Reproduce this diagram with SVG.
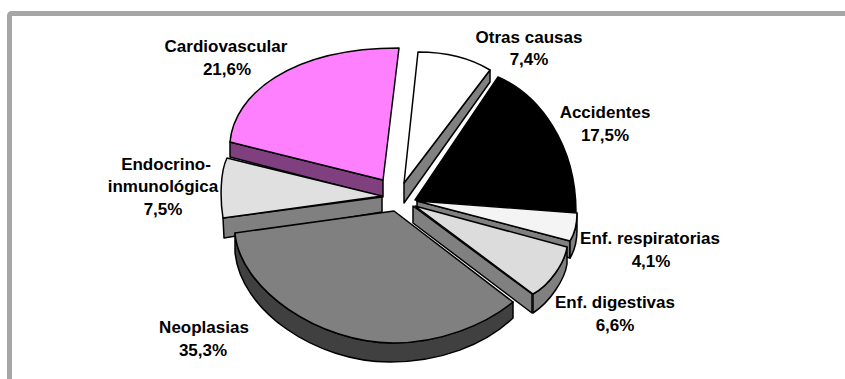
<svg xmlns="http://www.w3.org/2000/svg" width="845" height="379" viewBox="0 0 845 379">
<style>
.lbl{font-family:"Liberation Sans",Arial,sans-serif;font-weight:bold;font-size:17px;fill:#000;text-anchor:middle}
.s{stroke:#000;stroke-width:1.5;stroke-linejoin:round}
</style>
<rect x="0" y="0" width="845" height="379" fill="#fff"/>
<rect x="9.5" y="13.5" width="900" height="420" rx="2" fill="#fff" stroke="#a6a6a6" stroke-width="5"/>
<g id="otras">
<path class="s" d="M490,70 L490,82 L404,203 L404,183 Z" fill="#808080"/>
<path class="s" d="M418,52 C440,52 467,56 490,70 L404,183 Z" fill="#fff"/>
</g>
<g id="accidentes">
<path class="s" d="M415,200 L498,77 C540,95 576,145 576,212 Z" fill="#000"/>
</g>
<g id="cardiovascular">
<path class="s" d="M230,142 L383,180 L383,197 L230,157 Z" fill="#804080"/>
<path class="s" d="M230,142 C234,95 290,48 399,48 L383,180 Z" fill="#ff80ff"/>
</g>
<g id="respiratorias">
<path class="s" d="M417,201 L570,241 L570,258 L417,218 Z" fill="#808080"/>
<path class="s" d="M577,213 Q577,230 570,241 L570,258 Q577,247 577,230 Z" fill="#808080"/>
<path class="s" d="M417,201 L577,213 Q577,230 570,241 Z" fill="#f4f4f4"/>
</g>
<g id="digestivas">
<path class="s" d="M413,206 L532,294 L532,313 L413,223 Z" fill="#808080"/>
<path class="s" d="M533,294 C550,285 565,262 567,247 L567,264 C565,279 550,302 533,313 Z" fill="#808080"/>
<path class="s" d="M415,206 L567,247 C565,262 550,285 533,294 Z" fill="#dcdcdc"/>
</g>
<g id="endocrino">
<path class="s" d="M223,218 L382,197 L382,212 L224,238 Z" fill="#808080"/>
<path class="s" d="M227,158 L382,196 L223,218 C220,200 220,172 227,158 Z" fill="#e0e0e0"/>
</g>
<g id="neoplasias">
<path class="s" d="M235,233 C240,290 320,343 393,343 C440,343 485,325 513,302 L513,318 C485,345 440,362 390,362 C315,362 240,310 235,252 Z" fill="#404040"/>
<path class="s" d="M235,233 L394,211 L513,302 C485,325 440,343 393,343 C320,343 240,290 235,233 Z" fill="#808080"/>
</g>
<g id="labels">
<text class="lbl" x="226" y="52">Cardiovascular</text>
<text class="lbl" x="227" y="75">21,6%</text>
<text class="lbl" x="529" y="43">Otras causas</text>
<text class="lbl" x="529" y="65">7,4%</text>
<text class="lbl" x="605" y="118">Accidentes</text>
<text class="lbl" x="605" y="141">17,5%</text>
<text class="lbl" x="166" y="170">Endocrino-</text>
<text class="lbl" x="163" y="192">inmunológica</text>
<text class="lbl" x="163" y="215">7,5%</text>
<text class="lbl" x="650" y="244">Enf. respiratorias</text>
<text class="lbl" x="651" y="267">4,1%</text>
<text class="lbl" x="615" y="308">Enf. digestivas</text>
<text class="lbl" x="615" y="331">6,6%</text>
<text class="lbl" x="204" y="333">Neoplasias</text>
<text class="lbl" x="203" y="356">35,3%</text>
</g>
</svg>
